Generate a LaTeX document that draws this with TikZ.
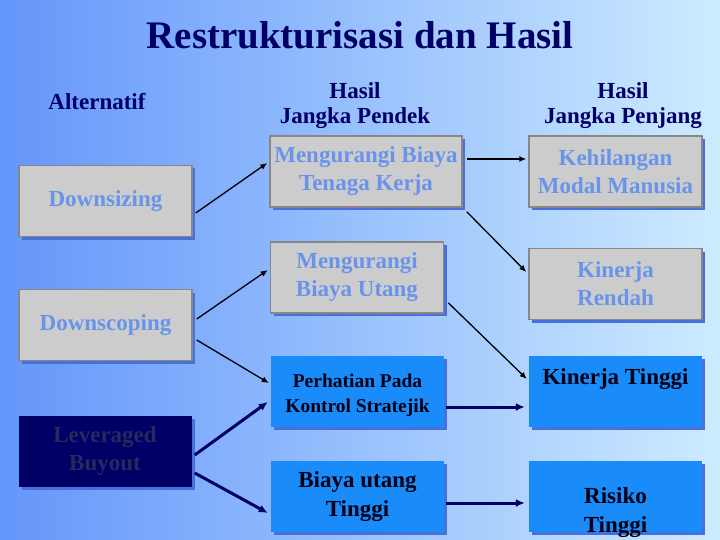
\documentclass[tikz,border=0pt]{standalone}
\usepackage{fontspec}
\setmainfont{Liberation Serif}
\usetikzlibrary{arrows.meta,calc,shadows}
\definecolor{bgl}{RGB}{100,150,250}
\definecolor{bgr}{RGB}{205,235,255}
\definecolor{navy}{RGB}{0,0,102}
\definecolor{gtxt}{RGB}{105,148,235}
\definecolor{gfill}{RGB}{204,204,204}
\definecolor{gline}{RGB}{135,135,135}
\definecolor{shd}{RGB}{72,112,218}
\definecolor{sky}{RGB}{25,140,250}
\definecolor{ntxt}{RGB}{40,40,95}
\tikzset{box/.style={minimum width=173pt,minimum height=71pt,inner sep=1pt,align=center,
  drop shadow={shadow xshift=3pt,shadow yshift=-3pt,fill=shd,opacity=1}},
 gb/.style={box,draw=gline,line width=1.5pt,fill=gfill,text=gtxt,font=\fontsize{23}{28}\selectfont\bfseries},
 bb/.style={box,fill=sky,text=black!80!navy,font=\fontsize{23}{29}\selectfont\bfseries},
 nb/.style={box,fill=navy,text=ntxt,font=\fontsize{23}{28}\selectfont\bfseries},
 hd/.style={text=navy,align=center,font=\fontsize{23}{25}\selectfont\bfseries},
 ar/.style={-{Latex[length=7pt,width=6pt]},line width=1.3pt},
 nar/.style={-{Latex[length=9pt,width=8pt]},line width=3pt,draw=navy}}
\begin{document}
\begin{tikzpicture}[x=1pt,y=-1pt]
\useasboundingbox (0,0) rectangle (720,540);
\shade[left color=bgl,right color=bgr] (0,0) rectangle (720,540);
% titles
\node[text=navy,font=\fontsize{39}{40}\selectfont\bfseries] (ttl) at (360,35) {Restrukturisasi dan Hasil};
\node[hd] (h1) at (97,102) {Alternatif};
\node[hd] (h2) at (355,106) {Hasil\\Jangka Pendek};
\node[hd] (h3) at (623,106) {Hasil\\Jangka Penjang};
% alternatif
\node[gb] (dsz) at (105.5,201) {Downsizing};
\node[gb] (dsc) at (105.5,325) {Downscoping};
\node[nb] (lbo) at (105,451) {Leveraged\\Buyout};
% jangka pendek
\node[gb,minimum width=192pt] (m1) at (366,171.5) {Mengurangi Biaya\\Tenaga Kerja};
\node[gb] (m2) at (357,277.5) {Mengurangi\\Biaya Utang};
\node[bb,label={[text=black!80!navy,align=center,font=\fontsize{19.5}{25}\selectfont\bfseries,yshift=-4pt]center:Perhatian Pada\\Kontrol Stratejik}] (m3) at (357.5,391.5) {};
\node[bb] (m4) at (357.5,496.5) {Biaya utang\\Tinggi};
% jangka panjang
\node[gb] (r1) at (615.5,171.5) {Kehilangan\\Modal Manusia};
\node[gb] (r2) at (615.5,284) {Kinerja\\Rendah};
\node[bb] (r3) at (615.5,391.5) {Kinerja Tinggi\\~};
\node[bb,label={[text=black!80!navy,align=center,font=\fontsize{23}{29}\selectfont\bfseries,yshift=-16pt]center:Risiko\\Tinggi}] (r4) at (615.5,496.5) {};
% panah
\draw[ar] ($(dsz.east)+(3,12)$)--($(m1.west)+(-2,-8.5)$);
\draw[ar] ($(dsc.east)+(4,-6)$)--($(m2.west)+(-2,-7.5)$);
\draw[ar] ($(dsc.east)+(4,15)$)--($(m3.west)+(-2,-8.5)$);
\draw[ar] ($(m1.east)+(4,-12.5)$)--($(r1.west)+(-2,-12.5)$);
\draw[ar] ($(m1.south east)+(4,4)$)--($(r2.west)+(-2,-12)$);
\draw[ar] ($(m2.south east)+(4,-11)$)--($(r3.west)+(-2,-12.5)$);
\draw[nar] ($(lbo.east)+(3,4)$)--($(m3.west)+(-3,10.5)$);
\draw[nar] ($(lbo.east)+(3,22)$)--($(m4.west)+(-3,16.5)$);
\draw[nar] ($(m3.east)+(2,15.5)$)--($(r3.west)+(-4,15.5)$);
\draw[nar] ($(m4.east)+(2,6.5)$)--($(r4.west)+(-4,6.5)$);
\end{tikzpicture}
\end{document}
